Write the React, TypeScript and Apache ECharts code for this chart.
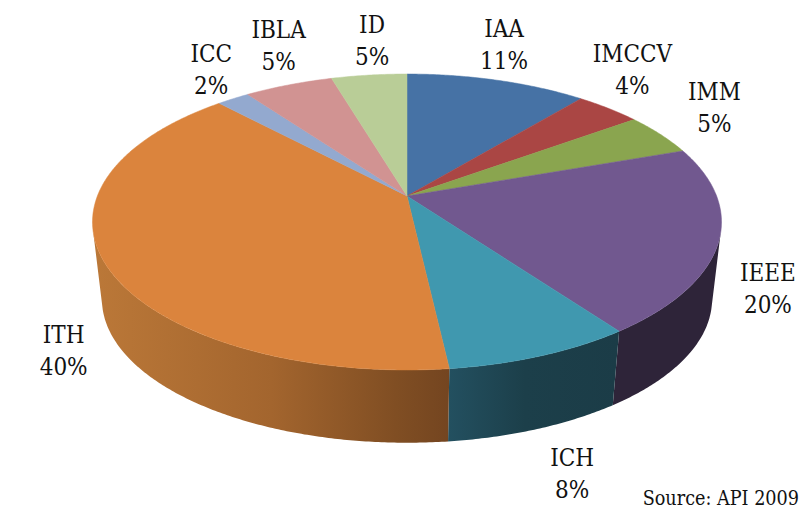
import React, { useEffect, useRef } from "react";
import * as echarts from "echarts";

const NAMES = ["IAA", "IMCCV", "IMM", "IEEE", "ICH", "ITH", "ICC", "IBLA", "ID"];
const SHARES = [11, 4, 4.6, 20.4, 8.2, 39.8, 2, 5.4, 4.6];
const TOP_COLORS = ["#4672A5", "#AA4644", "#8AA54F", "#71588F", "#4098AF", "#DB843D", "#93A9CF", "#D19392", "#B9CD97"];
const WALL_STOPS: ([number, string][] | null)[] = [
  null, null, null,
  [[0, "#2E2439"], [1, "#2E2439"]],
  [[0, "#235060"], [0.45, "#1C3F4A"], [1, "#1B3C47"]],
  [[0, "#BB7838"], [0.5, "#A3652E"], [0.85, "#804E23"], [1, "#744520"]],
  null, null, null,
];
const LABEL_NUDGE = [[7, -35], [24, -38], [54, -26], [49, 48], [31, 118], [-40, 90], [-22, -29], [-10, -39], [3, -34]];
const SOURCE_NOTE = "Source: API 2009";

// Perspective projection of the pie's disc
const CX = 407, TOP_Y = 196, BOTTOM_Y = 274, HALF_W = 309.6, HALF_H = 143.4, PERSP = 0.1757, BOTTOM_SCALE = 0.97;
const WALL_FROM = 104, WALL_TO = 256;
const FONT = "DejaVu Serif Condensed";

const project = (deg: number, y0: number, s: number): [number, number] => {
  const t = (deg * Math.PI) / 180;
  const w = 1 + PERSP * Math.cos(t);
  return [CX + (s * HALF_W * Math.sin(t)) / w, y0 - (s * HALF_H * Math.cos(t)) / w];
};
const arc = (a: number, b: number, y0: number, s: number) => {
  const pts: [number, number][] = [];
  const n = Math.max(2, Math.ceil(Math.abs(b - a) * 2));
  for (let i = 0; i <= n; i++) pts.push(project(a + ((b - a) * i) / n, y0, s));
  return pts;
};
const total = SHARES.reduce((a, b) => a + b, 0);
const range = (i: number): [number, number] => {
  let sum = 0;
  for (let k = 0; k < i; k++) sum += SHARES[k];
  return [(sum / total) * 360, ((sum + SHARES[i]) / total) * 360];
};
const seriesData = NAMES.map((name, i) => ({ name, value: SHARES[i] }));

export default function App() {
  const ref = useRef<HTMLDivElement>(null);
  useEffect(() => {
    document.body.style.margin = "0";
    const chart = echarts.init(ref.current!, undefined, { renderer: "svg" });
    chart.setOption({
      animation: false,
      backgroundColor: "#ffffff",
      series: [
        {
          type: "custom",
          coordinateSystem: "none",
          silent: true,
          data: seriesData,
          renderItem: (params: any) => {
            const i = params.dataIndex;
            const [a0, a1] = range(i);
            const a = Math.max(a0, WALL_FROM), b = Math.min(a1, WALL_TO);
            const stops = WALL_STOPS[i];
            if (b <= a || !stops) return { type: "group", children: [] };
            const pts = [...arc(a, b, TOP_Y, 1), ...arc(b, a, BOTTOM_Y, BOTTOM_SCALE)];
            return {
              type: "polygon",
              shape: { points: pts },
              style: {
                fill: new echarts.graphic.LinearGradient(0, 0, 1, 0, stops.map(([offset, color]) => ({ offset, color }))),
              },
            };
          },
        },
        {
          type: "custom",
          coordinateSystem: "none",
          silent: true,
          z: 3,
          data: seriesData,
          renderItem: (params: any) => {
            const i = params.dataIndex;
            const [a0, a1] = range(i);
            const pts = [[CX, TOP_Y], ...arc(a0, a1, TOP_Y, 1)];
            return {
              type: "polygon",
              shape: { points: pts },
              style: { fill: TOP_COLORS[i], stroke: TOP_COLORS[i], lineWidth: 0.5 },
            };
          },
        },
        {
          type: "custom",
          coordinateSystem: "none",
          silent: true,
          z: 4,
          data: seriesData,
          renderItem: (params: any, api: any) => {
            const i = params.dataIndex;
            const [a0, a1] = range(i);
            const [x, y] = project((a0 + a1) / 2, TOP_Y, 1);
            return {
              type: "text",
              x: x + LABEL_NUDGE[i][0],
              y: y + LABEL_NUDGE[i][1],
              style: {
                text: `${NAMES[i]}\n${Math.round(api.value(0))}%`,
                fill: "#111111",
                fontFamily: FONT,
                fontSize: 24,
                lineHeight: 32,
                align: "center",
                verticalAlign: "middle",
              },
            };
          },
        },
      ],
      graphic: [
        {
          type: "text",
          right: 6,
          top: 488,
          style: { text: SOURCE_NOTE, fill: "#111111", fontFamily: FONT, fontSize: 19.6 },
        },
      ],
    });
    return () => chart.dispose();
  }, []);
  return <div ref={ref} style={{ position: "absolute", left: 0, top: 0, width: 805, height: 513 }} />;
}
